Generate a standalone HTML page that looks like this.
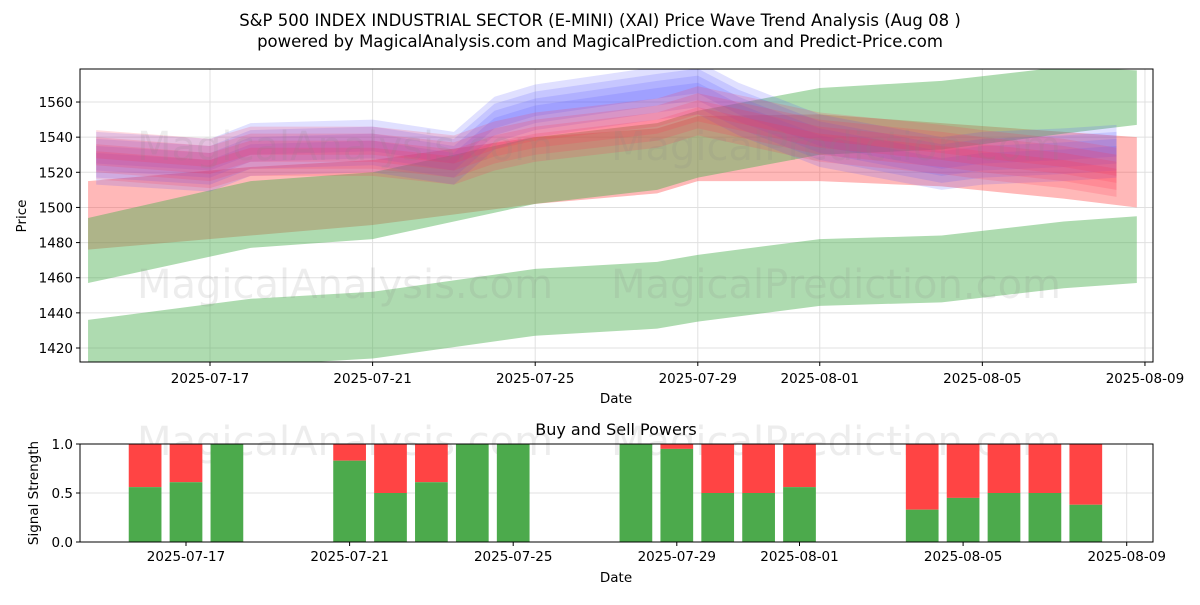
<!DOCTYPE html>
<html><head><meta charset="utf-8"><style>
body{margin:0;background:#fff;font-family:"Liberation Sans","DejaVu Sans",sans-serif}
svg text{font-family:"DejaVu Sans","Liberation Sans",sans-serif}
</style></head><body>
<svg id="c" width="1200" height="600" xmlns="http://www.w3.org/2000/svg">
<text x="600" y="26" text-anchor="middle" font-size="16.5">S&amp;P 500 INDEX INDUSTRIAL SECTOR (E-MINI) (XAI) Price Wave Trend Analysis (Aug 08 )</text>
<text x="600" y="47" text-anchor="middle" font-size="16.5">powered by MagicalAnalysis.com and MagicalPrediction.com and Predict-Price.com</text>
<g id="main"></g><g id="sub"></g>
</svg>
<script>
// ---- data ----
const wideDates=[14,18,21,25,28,29,32,35,38,39.8];
const greenAUpper=[1494,1515,1520,1540,1548,1555,1568,1572,1580,1578];
const greenALower=[1457,1477,1482,1502,1510,1517,1530,1533,1542,1547];
const greenBUpper=[1436,1448,1452,1465,1469,1473,1482,1484,1492,1495];
const greenBLower=[1405,1410,1414,1427,1431,1435,1444,1446,1454,1457];
const redWideUpper=[1515,1523,1527,1540,1545,1552,1553,1548,1543,1540];
const redWideLower=[1476,1484,1490,1502,1508,1515,1515,1512,1505,1500];
const narrowDates=[14.2,17,18,21,23,24,25,28,29,30,32,35,36,38,39.3];
const redCenter=[1530,1525,1532,1532,1527,1535,1540,1548,1555,1550,1540,1533,1530,1525,1520];
const blueCenter=[1528,1524,1533,1535,1528,1548,1555,1565,1568,1556,1538,1525,1528,1530,1532];
const bandOffsets=[-6,-2,2,6];
const sellDates=[16,17,18,21,22,23,24,25,28,29,30,31,32,35,36,37,38,39];
const buyPower=[0.56,0.61,1.0,0.83,0.5,0.61,1.0,1.0,1.0,0.95,0.5,0.5,0.56,0.33,0.45,0.5,0.5,0.38];
const yTicks=[1420,1440,1460,1480,1500,1520,1540,1560];
const xTickDays=[17,21,25,29,32,36,40];
const xTickLabels=["2025-07-17","2025-07-21","2025-07-25","2025-07-29","2025-08-01","2025-08-05","2025-08-09"];
const subTicks=[0,0.5,1];
// ---- axes ----
const L=80,R=1153,T=69,B=362,ST=444,SB=542;
const x=d=>210+(d-17)*40.65;
const xs=d=>186+(d-17)*40.9;
const y=v=>348-(v-1420)*1.757;
const ys=v=>SB-v*(SB-ST);
const FS=13.5;
const NS="http://www.w3.org/2000/svg";
function mk(p,tag,at){const e=document.createElementNS(NS,tag);for(const k in at)e.setAttribute(k,at[k]);p.appendChild(e);return e;}
const main=document.getElementById('main'),sub=document.getElementById('sub');
const defs=mk(main,'defs',{});const cp=mk(defs,'clipPath',{id:'cp'});mk(cp,'rect',{x:L,y:T,width:R-L,height:B-T});
yTicks.forEach(v=>{const l=mk(main,'line',{x1:L,x2:R,y1:y(v),y2:y(v),stroke:'#e0e0e0','stroke-width':1});
});
xTickDays.forEach(d=>{const l=mk(main,'line',{x1:x(d),x2:x(d),y1:T,y2:B,stroke:'#e0e0e0','stroke-width':1});
});
const g=mk(main,'g',{'clip-path':'url(#cp)'});
function band(dates,up,lo,color,op,name){
 let pts=dates.map((d,i)=>x(d)+','+y(up[i]));
 for(let i=dates.length-1;i>=0;i--)pts.push(x(dates[i])+','+y(lo[i]));
 const p=mk(g,'polygon',{points:pts.join(' '),fill:color,'fill-opacity':op});
 
 
}
band(wideDates,redWideUpper,redWideLower,'#ff3333',0.35,'red-band-wide');
band(wideDates,greenBUpper,greenBLower,'#4caf50',0.45,'green-band-lower');
band(wideDates,greenAUpper,greenALower,'#4caf50',0.45,'green-band-upper');
bandOffsets.forEach((o,k)=>{
 band(narrowDates,blueCenter.map(v=>v+o+9),blueCenter.map(v=>v+o-9),'#5555ff',0.18,'blue-band');
});
bandOffsets.forEach((o,k)=>{
 band(narrowDates,redCenter.map(v=>v+o+8),redCenter.map(v=>v+o-8),'#ff3355',0.18,'red-band');
});
[[345,298,'MagicalAnalysis.com'],[836,298,'MagicalPrediction.com'],[345,160,'MagicalAnalysis.com'],[836,160,'MagicalPrediction.com']].forEach(w=>{
 const t=mk(main,'text',{x:w[0],y:w[1],'text-anchor':'middle','font-size':40,fill:'#888','fill-opacity':0.15});t.textContent=w[2];
 });
mk(main,'rect',{x:L,y:T,width:R-L,height:B-T,fill:'none',stroke:'#000','stroke-width':1});
yTicks.forEach(v=>{mk(main,'line',{x1:L-4,x2:L,y1:y(v),y2:y(v),stroke:'#000'});
 const t=mk(main,'text',{x:L-7,y:y(v)+5,'text-anchor':'end','font-size':FS});t.textContent=v;
 });
xTickDays.forEach((d,i)=>{mk(main,'line',{x1:x(d),x2:x(d),y1:B,y2:B+4,stroke:'#000'});
 const t=mk(main,'text',{x:x(d),y:B+21,'text-anchor':'middle','font-size':FS});t.textContent=xTickLabels[i];
 });
let t=mk(main,'text',{x:616,y:403,'text-anchor':'middle','font-size':FS});t.textContent='Date';

t=mk(main,'text',{x:26,y:216,'text-anchor':'middle','font-size':FS,transform:'rotate(-90 26 216)'});t.textContent='Price';

// ---- sub chart ----
t=mk(sub,'text',{x:616,y:435,'text-anchor':'middle','font-size':16});t.textContent='Buy and Sell Powers';

subTicks.forEach(v=>{const l=mk(sub,'line',{x1:L,x2:R,y1:ys(v),y2:ys(v),stroke:'#e0e0e0'});
 });
xTickDays.forEach(d=>{const l=mk(sub,'line',{x1:xs(d),x2:xs(d),y1:ST,y2:SB,stroke:'#e0e0e0'});
 });
[[345,455,'MagicalAnalysis.com'],[836,455,'MagicalPrediction.com']].forEach(w=>{
 const tt=mk(sub,'text',{x:w[0],y:w[1],'text-anchor':'middle','font-size':40,fill:'#888','fill-opacity':0.15});tt.textContent=w[2];
 });
const bw=0.8*40.9;
sellDates.forEach((d,i)=>{
 const b=buyPower[i];
 const r=mk(sub,'rect',{x:xs(d)-bw/2,y:ys(1),width:bw,height:ys(b)-ys(1),fill:'#ff4444'});
 
 const gr=mk(sub,'rect',{x:xs(d)-bw/2,y:ys(b),width:bw,height:SB-ys(b),fill:'#4caa4c'});
 
});
mk(sub,'rect',{x:L,y:ST,width:R-L,height:SB-ST,fill:'none',stroke:'#000'});
subTicks.forEach(v=>{mk(sub,'line',{x1:L-4,x2:L,y1:ys(v),y2:ys(v),stroke:'#000'});
 const tt=mk(sub,'text',{x:L-7,y:ys(v)+5,'text-anchor':'end','font-size':FS});tt.textContent=v.toFixed(1);
 });
xTickDays.forEach((d,i)=>{mk(sub,'line',{x1:xs(d),x2:xs(d),y1:SB,y2:SB+4,stroke:'#000'});
 const tt=mk(sub,'text',{x:xs(d),y:SB+19,'text-anchor':'middle','font-size':FS});tt.textContent=xTickLabels[i];
 });
t=mk(sub,'text',{x:616,y:582,'text-anchor':'middle','font-size':FS});t.textContent='Date';

t=mk(sub,'text',{x:38,y:493,'text-anchor':'middle','font-size':FS,transform:'rotate(-90 38 493)'});t.textContent='Signal Strength';

</script>
</body></html>
